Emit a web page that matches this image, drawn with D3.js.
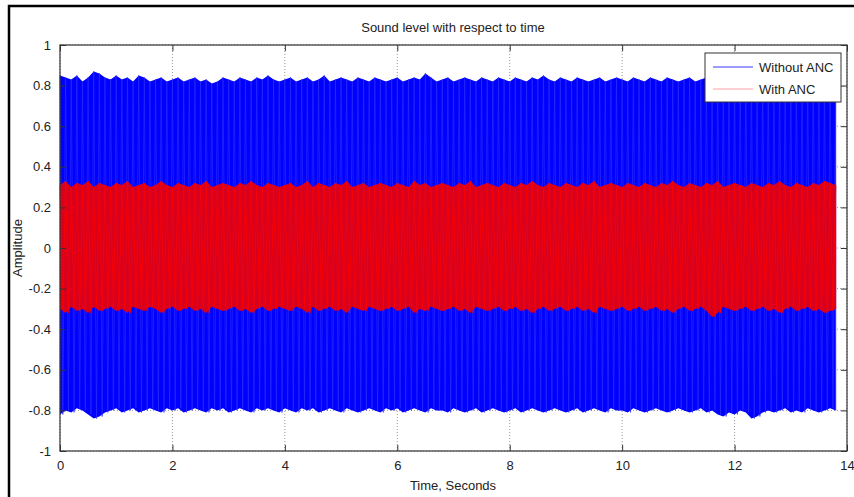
<!DOCTYPE html>
<html>
<head>
<meta charset="utf-8">
<script src="https://cdn.jsdelivr.net/npm/d3@7"></script>
<style>
  body { margin: 0; background: #fff; }
  text { font-family: "Liberation Sans", Arial, sans-serif; fill: #222; }
</style>
</head>
<body>
<div id="chart"></div>
<script>
// Peak envelopes, one sample every 0.1 s (0 .. 13.8 s)
const sampleStep = 0.1;
const blueTop = [
  0.85,0.84,0.83,0.85,0.82,0.84,0.87,0.86,0.84,0.83,
  0.85,0.83,0.84,0.82,0.85,0.84,0.82,0.83,0.84,0.82,
  0.83,0.84,0.82,0.83,0.84,0.82,0.83,0.81,0.82,0.84,
  0.83,0.82,0.84,0.83,0.82,0.84,0.83,0.85,0.83,0.82,
  0.83,0.84,0.82,0.83,0.84,0.82,0.83,0.85,0.82,0.83,
  0.84,0.83,0.82,0.84,0.83,0.82,0.84,0.83,0.82,0.83,
  0.84,0.82,0.83,0.84,0.83,0.86,0.84,0.82,0.83,0.84,
  0.82,0.83,0.84,0.83,0.82,0.84,0.83,0.82,0.84,0.83,
  0.82,0.84,0.83,0.82,0.84,0.83,0.85,0.83,0.82,0.84,
  0.83,0.82,0.84,0.83,0.82,0.83,0.84,0.82,0.83,0.84,
  0.83,0.82,0.84,0.83,0.82,0.84,0.83,0.82,0.84,0.83,
  0.82,0.83,0.84,0.82,0.83,0.84,0.83,0.82,0.84,0.83,
  0.82,0.84,0.83,0.82,0.84,0.83,0.82,0.83,0.84,0.82,
  0.83,0.84,0.82,0.83,0.84,0.83,0.82,0.84,0.83
];
const blueBottom = [
  -0.82,-0.80,-0.81,-0.79,-0.80,-0.82,-0.84,-0.83,-0.81,-0.80,
  -0.79,-0.81,-0.80,-0.79,-0.81,-0.80,-0.79,-0.80,-0.81,-0.79,
  -0.80,-0.79,-0.81,-0.80,-0.79,-0.80,-0.81,-0.79,-0.80,-0.79,
  -0.81,-0.80,-0.79,-0.80,-0.81,-0.79,-0.80,-0.79,-0.80,-0.81,
  -0.79,-0.80,-0.81,-0.79,-0.80,-0.79,-0.81,-0.80,-0.79,-0.80,
  -0.81,-0.79,-0.80,-0.81,-0.80,-0.79,-0.80,-0.81,-0.79,-0.80,
  -0.79,-0.81,-0.80,-0.79,-0.80,-0.81,-0.79,-0.80,-0.80,-0.81,
  -0.79,-0.80,-0.81,-0.80,-0.79,-0.81,-0.80,-0.79,-0.80,-0.81,
  -0.80,-0.79,-0.81,-0.80,-0.79,-0.80,-0.81,-0.80,-0.79,-0.80,
  -0.81,-0.80,-0.79,-0.81,-0.80,-0.79,-0.80,-0.81,-0.79,-0.80,
  -0.80,-0.81,-0.79,-0.80,-0.81,-0.80,-0.79,-0.80,-0.81,-0.80,
  -0.79,-0.80,-0.81,-0.80,-0.79,-0.81,-0.80,-0.82,-0.83,-0.81,
  -0.82,-0.80,-0.81,-0.84,-0.83,-0.81,-0.80,-0.81,-0.80,-0.79,
  -0.81,-0.80,-0.81,-0.79,-0.80,-0.81,-0.80,-0.79,-0.80
];
const redTop = [
  0.31,0.33,0.30,0.32,0.31,0.33,0.30,0.32,0.31,0.30,
  0.32,0.31,0.33,0.30,0.31,0.32,0.30,0.31,0.33,0.31,
  0.30,0.32,0.31,0.30,0.32,0.31,0.33,0.30,0.31,0.32,
  0.31,0.30,0.32,0.31,0.33,0.31,0.30,0.32,0.31,0.30,
  0.31,0.32,0.30,0.31,0.33,0.30,0.32,0.31,0.30,0.32,
  0.31,0.33,0.30,0.31,0.32,0.30,0.31,0.32,0.31,0.30,
  0.32,0.31,0.30,0.33,0.31,0.32,0.30,0.31,0.32,0.31,
  0.30,0.32,0.31,0.33,0.30,0.31,0.32,0.31,0.30,0.32,
  0.31,0.30,0.32,0.31,0.33,0.31,0.30,0.32,0.31,0.30,
  0.32,0.31,0.30,0.32,0.31,0.33,0.30,0.31,0.32,0.31,
  0.30,0.32,0.31,0.30,0.32,0.31,0.30,0.32,0.31,0.33,
  0.31,0.30,0.32,0.31,0.30,0.32,0.31,0.33,0.30,0.31,
  0.32,0.31,0.30,0.32,0.31,0.30,0.32,0.31,0.33,0.31,
  0.30,0.32,0.31,0.30,0.32,0.31,0.33,0.32,0.31
];
const redBottom = [
  -0.30,-0.32,-0.29,-0.31,-0.30,-0.32,-0.29,-0.31,-0.30,-0.29,
  -0.31,-0.30,-0.32,-0.29,-0.30,-0.31,-0.29,-0.30,-0.32,-0.30,
  -0.29,-0.31,-0.30,-0.29,-0.31,-0.30,-0.32,-0.29,-0.30,-0.31,
  -0.30,-0.29,-0.31,-0.30,-0.32,-0.30,-0.29,-0.31,-0.30,-0.29,
  -0.30,-0.31,-0.29,-0.30,-0.32,-0.29,-0.31,-0.30,-0.29,-0.31,
  -0.30,-0.32,-0.29,-0.30,-0.31,-0.29,-0.30,-0.31,-0.30,-0.29,
  -0.31,-0.30,-0.29,-0.32,-0.30,-0.31,-0.29,-0.30,-0.31,-0.30,
  -0.29,-0.31,-0.30,-0.32,-0.29,-0.30,-0.31,-0.30,-0.29,-0.31,
  -0.30,-0.29,-0.31,-0.30,-0.32,-0.30,-0.29,-0.31,-0.30,-0.29,
  -0.31,-0.30,-0.29,-0.31,-0.30,-0.32,-0.29,-0.30,-0.31,-0.30,
  -0.29,-0.31,-0.30,-0.29,-0.31,-0.30,-0.29,-0.31,-0.30,-0.32,
  -0.30,-0.29,-0.31,-0.30,-0.29,-0.31,-0.34,-0.32,-0.29,-0.30,
  -0.31,-0.30,-0.29,-0.31,-0.30,-0.29,-0.31,-0.30,-0.32,-0.30,
  -0.29,-0.31,-0.30,-0.29,-0.31,-0.30,-0.32,-0.31,-0.30
];
const xTicks = [0, 2, 4, 6, 8, 10, 12, 14];
const yTicks = [-1, -0.8, -0.6, -0.4, -0.2, 0, 0.2, 0.4, 0.6, 0.8, 1];
const seriesNames = ["Without ANC", "With ANC"];

const width = 854, height = 497;
const margins = {top: 45, right: 7, bottom: 46, left: 60};

const svg = d3.select("#chart").append("svg")
    .attr("width", width)
    .attr("height", height);

// outer frame of the figure (only left and top edge show)
svg.append("path")
    .attr("d", `M9,${height}V6H${width}`)
    .attr("fill", "none")
    .attr("stroke", "#000")
    .attr("stroke-width", 2.5);

const x = d3.scaleLinear().domain([0, 14]).range([margins.left, width - margins.right]);
const y = d3.scaleLinear().domain([-1, 1]).range([height - margins.bottom, margins.top]);

// grid
svg.append("g").selectAll("line").data(xTicks).join("line")
    .attr("x1", d => x(d)).attr("x2", d => x(d))
    .attr("y1", y(-1)).attr("y2", y(1))
    .attr("stroke", "#999").attr("stroke-dasharray", "1,2");
svg.append("g").selectAll("line").data(yTicks).join("line")
    .attr("x1", x(0)).attr("x2", x(14))
    .attr("y1", d => y(d)).attr("y2", d => y(d))
    .attr("stroke", "#999").attr("stroke-dasharray", "1,2");

// signal bands: filled envelope plus a zigzag trace for the texture
function drawSignal(top, bottom, fill, trace) {
    const pts = top.map((v, i) => ({t: i * sampleStep, hi: v, lo: bottom[i]}));
    const area = d3.area()
        .x(d => x(d.t)).y0(d => y(d.lo)).y1(d => y(d.hi));
    svg.append("path").datum(pts)
        .attr("d", area)
        .attr("fill", fill);
    const zig = [];
    pts.forEach(d => {
        zig.push([d.t, d.hi]);
        zig.push([d.t + sampleStep / 2, d.lo]);
    });
    svg.append("path").datum(zig)
        .attr("d", d3.line().x(d => x(Math.min(d[0], 13.8))).y(d => y(d[1])))
        .attr("fill", "none")
        .attr("stroke", trace)
        .attr("stroke-width", 0.7);
}
drawSignal(blueTop, blueBottom, "#0000ff", "#2a2aff");
drawSignal(redTop, redBottom, "#d8001c", "#ff0000");

// axes box with inward ticks (MATLAB style)
const axisColor = "#333";
svg.append("rect")
    .attr("x", x(0)).attr("y", y(1))
    .attr("width", x(14) - x(0)).attr("height", y(-1) - y(1))
    .attr("fill", "none").attr("stroke", axisColor).attr("stroke-width", 1.2);

const xAxis = svg.append("g")
    .attr("transform", `translate(0,${y(-1)})`)
    .call(d3.axisBottom(x).tickValues(xTicks).tickSizeInner(-6).tickSizeOuter(0).tickPadding(10));
const xTop = svg.append("g")
    .attr("transform", `translate(0,${y(1)})`)
    .call(d3.axisTop(x).tickValues(xTicks).tickSizeInner(-6).tickSizeOuter(0).tickFormat(""));
const yAxis = svg.append("g")
    .attr("transform", `translate(${x(0)},0)`)
    .call(d3.axisLeft(y).tickValues(yTicks).tickSizeInner(-6).tickSizeOuter(0).tickPadding(9).tickFormat(d => String(d)));
const yRight = svg.append("g")
    .attr("transform", `translate(${x(14)},0)`)
    .call(d3.axisRight(y).tickValues(yTicks).tickSizeInner(-6).tickSizeOuter(0).tickFormat(""));

[xAxis, xTop, yAxis, yRight].forEach(g => {
    g.select(".domain").remove();
    g.selectAll("line").attr("stroke", axisColor);
    g.selectAll("text").attr("font-size", 13).attr("fill", "#222")
        .style("font-family", "'Liberation Sans', Arial, sans-serif");
});

// title and axis labels
svg.append("text")
    .attr("x", 453).attr("y", 32)
    .attr("text-anchor", "middle").attr("font-size", 13)
    .text("Sound level with respect to time");
svg.append("text")
    .attr("x", 453).attr("y", 490)
    .attr("text-anchor", "middle").attr("font-size", 13)
    .text("Time, Seconds");
svg.append("text")
    .attr("transform", `translate(22,${y(0)}) rotate(-90)`)
    .attr("text-anchor", "middle").attr("font-size", 13)
    .text("Amplitude");

// legend
const legend = svg.append("g").attr("transform", "translate(705,53)");
legend.append("rect")
    .attr("width", 136).attr("height", 49)
    .attr("fill", "#fff").attr("stroke", axisColor).attr("stroke-width", 1);
const legendColors = ["#3a3aff", "#ffa0a8"];
seriesNames.forEach((name, i) => {
    legend.append("line")
        .attr("x1", 8).attr("x2", 48)
        .attr("y1", 14 + i * 22).attr("y2", 14 + i * 22)
        .attr("stroke", legendColors[i]).attr("stroke-width", 1.2);
    legend.append("text")
        .attr("x", 54).attr("y", 19 + i * 22)
        .attr("font-size", 13)
        .text(name);
});
</script>
</body>
</html>
